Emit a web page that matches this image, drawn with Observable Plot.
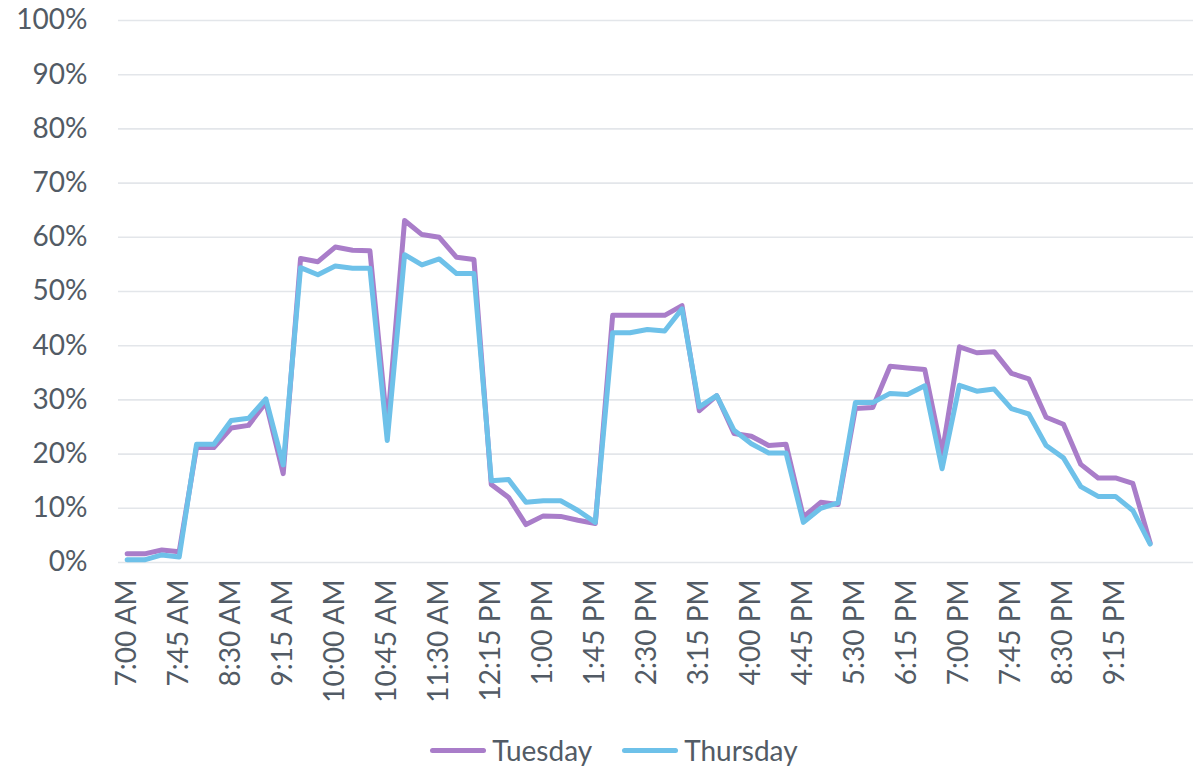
<!DOCTYPE html>
<html>
<head>
<meta charset="utf-8">
<script src="https://cdn.jsdelivr.net/npm/d3@7"></script>
<script src="https://cdn.jsdelivr.net/npm/@observablehq/plot@0.6"></script>
<style>
  html, body { margin: 0; padding: 0; background: #fff; }
  #chart svg { display: block; font-family: Lato, "Open Sans", sans-serif; }
  #legend { display: flex; justify-content: center; align-items: center; gap: 30px;
            font-family: Lato, "Open Sans", sans-serif; font-size: 28px; color: #525b65;
            margin-top: 11px; padding-left: 25px; height: 38px; }
  .item { display: flex; align-items: center; gap: 6px; }
  .sw { width: 56px; height: 5px; border-radius: 3px; }
</style>
</head>
<body>
<div id="chart"></div>
<div id="legend"></div>
<script>
const times = ["7:00 AM","7:15 AM","7:30 AM","7:45 AM","8:00 AM","8:15 AM","8:30 AM","8:45 AM","9:00 AM","9:15 AM",
  "9:30 AM","9:45 AM","10:00 AM","10:15 AM","10:30 AM","10:45 AM","11:00 AM","11:15 AM","11:30 AM","11:45 AM",
  "12:00 PM","12:15 PM","12:30 PM","12:45 PM","1:00 PM","1:15 PM","1:30 PM","1:45 PM","2:00 PM","2:15 PM",
  "2:30 PM","2:45 PM","3:00 PM","3:15 PM","3:30 PM","3:45 PM","4:00 PM","4:15 PM","4:30 PM","4:45 PM",
  "5:00 PM","5:15 PM","5:30 PM","5:45 PM","6:00 PM","6:15 PM","6:30 PM","6:45 PM","7:00 PM","7:15 PM",
  "7:30 PM","7:45 PM","8:00 PM","8:15 PM","8:30 PM","8:45 PM","9:00 PM","9:15 PM","9:30 PM","9:45 PM",
  "10:00 PM","10:15 PM"];

const tickLabels = ["7:00 AM","7:45 AM","8:30 AM","9:15 AM","10:00 AM","10:45 AM","11:30 AM","12:15 PM","1:00 PM","1:45 PM",
  "2:30 PM","3:15 PM","4:00 PM","4:45 PM","5:30 PM","6:15 PM","7:00 PM","7:45 PM","8:30 PM","9:15 PM"];

const yTicks = [0, 0.1, 0.2, 0.3, 0.4, 0.5, 0.6, 0.7, 0.8, 0.9, 1];

const tuesday = [0.016,0.016,0.023,0.020,0.212,0.212,0.248,0.253,0.295,0.164,
  0.561,0.555,0.582,0.576,0.575,0.250,0.631,0.605,0.600,0.563,
  0.559,0.144,0.120,0.070,0.086,0.085,0.078,0.072,0.456,0.456,
  0.456,0.456,0.474,0.280,0.308,0.238,0.233,0.216,0.218,0.084,
  0.111,0.107,0.284,0.286,0.362,0.359,0.356,0.201,0.398,0.387,
  0.389,0.349,0.339,0.268,0.255,0.181,0.156,0.156,0.146,0.036];

const thursday = [0.005,0.005,0.014,0.010,0.218,0.218,0.262,0.266,0.302,0.180,
  0.544,0.531,0.547,0.543,0.543,0.225,0.568,0.549,0.560,0.533,
  0.533,0.151,0.153,0.111,0.114,0.114,0.096,0.074,0.424,0.424,
  0.430,0.427,0.468,0.287,0.308,0.244,0.219,0.202,0.202,0.074,
  0.100,0.110,0.295,0.295,0.312,0.310,0.326,0.173,0.327,0.316,
  0.320,0.284,0.274,0.216,0.193,0.140,0.122,0.122,0.096,0.034];

const seriesNames = ["Tuesday", "Thursday"];
const seriesColors = ["#a97dc9", "#6ec1e9"];

const rows = [];
tuesday.forEach((v, i) => rows.push({time: times[i], value: v, series: "Tuesday"}));
thursday.forEach((v, i) => rows.push({time: times[i], value: v, series: "Thursday"}));

const textColor = "#525b65";

const chart = Plot.plot({
  width: 1203,
  height: 720,
  marginLeft: 118,
  marginRight: 10,
  marginTop: 20,
  marginBottom: 158,
  style: {fontFamily: "Lato, 'Open Sans', sans-serif", fontSize: "28px", color: textColor, background: "#fff"},
  x: {type: "point", domain: times, padding: 0.5, round: false, label: null},
  y: {domain: [0, 1], label: null},
  color: {domain: seriesNames, range: seriesColors},
  marks: [
    Plot.gridY(yTicks, {stroke: "#e3e6ea", strokeOpacity: 1, strokeWidth: 1.6}),
    Plot.axisY(yTicks, {tickSize: 0, tickPadding: 31, tickFormat: d3.format(".0%"), fontSize: 28, fill: textColor, label: null}),
    Plot.axisX(tickLabels, {tickSize: 0, tickPadding: 17, tickRotate: -90, fontSize: 28, fill: textColor, label: null}),
    Plot.line(rows, {x: "time", y: "value", z: "series", stroke: "series", strokeWidth: 5, strokeLinejoin: "round", strokeLinecap: "round"})
  ]
});
document.getElementById("chart").appendChild(chart);

const legend = document.getElementById("legend");
seriesNames.forEach((name, i) => {
  const item = document.createElement("div");
  item.className = "item";
  const sw = document.createElement("div");
  sw.className = "sw";
  sw.style.background = seriesColors[i];
  const label = document.createElement("span");
  label.textContent = name;
  item.appendChild(sw);
  item.appendChild(label);
  legend.appendChild(item);
});
</script>
</body>
</html>
